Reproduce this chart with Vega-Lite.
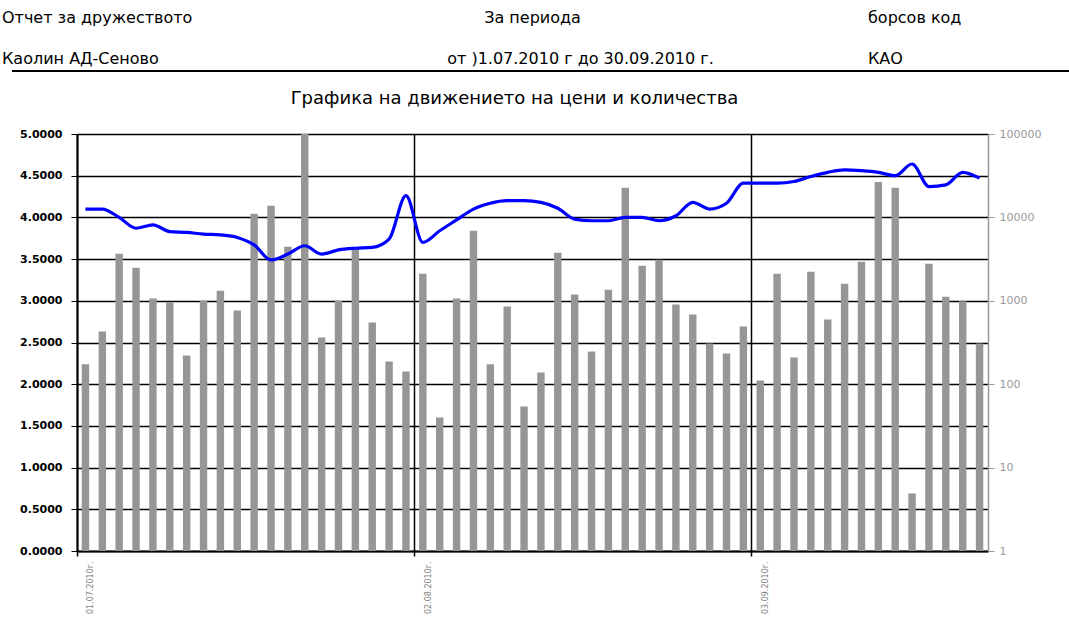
{
  "$schema": "https://vega.github.io/schema/vega-lite/v6.json",
  "autosize": {"type": "none"},
  "padding": {"left": 77, "top": 134, "right": 81, "bottom": 68},
  "width": 911,
  "height": 417,
  "background": "white",
  "config": {"view": {"stroke": null}, "font": "DejaVu Sans"},
  "datasets": {
    "main": [
      {"d": "2010-07-01", "q": 173, "p": 4.10},
      {"d": "2010-07-02", "q": 428, "p": 4.10},
      {"d": "2010-07-05", "q": 3670, "p": 4.00},
      {"d": "2010-07-06", "q": 2495, "p": 3.87},
      {"d": "2010-07-07", "q": 1062, "p": 3.91},
      {"d": "2010-07-08", "q": 951, "p": 3.83},
      {"d": "2010-07-12", "q": 221, "p": 3.82},
      {"d": "2010-07-13", "q": 1000, "p": 3.80},
      {"d": "2010-07-14", "q": 1324, "p": 3.79},
      {"d": "2010-07-15", "q": 764, "p": 3.76},
      {"d": "2010-07-16", "q": 11040, "p": 3.67},
      {"d": "2010-07-19", "q": 13770, "p": 3.49},
      {"d": "2010-07-20", "q": 4450, "p": 3.56},
      {"d": "2010-07-21", "q": 100000, "p": 3.66},
      {"d": "2010-07-22", "q": 363, "p": 3.56},
      {"d": "2010-07-26", "q": 1000, "p": 3.61},
      {"d": "2010-07-27", "q": 4210, "p": 3.63},
      {"d": "2010-07-28", "q": 548, "p": 3.64},
      {"d": "2010-07-29", "q": 187, "p": 3.74},
      {"d": "2010-07-30", "q": 142, "p": 4.26},
      {"d": "2010-08-02", "q": 2115, "p": 3.70},
      {"d": "2010-08-03", "q": 40, "p": 3.84},
      {"d": "2010-08-04", "q": 1062, "p": 3.97},
      {"d": "2010-08-05", "q": 6920, "p": 4.10},
      {"d": "2010-08-09", "q": 173, "p": 4.17},
      {"d": "2010-08-10", "q": 852, "p": 4.20},
      {"d": "2010-08-11", "q": 54, "p": 4.20},
      {"d": "2010-08-12", "q": 138, "p": 4.18},
      {"d": "2010-08-16", "q": 3775, "p": 4.11},
      {"d": "2010-08-17", "q": 1187, "p": 3.98},
      {"d": "2010-08-18", "q": 247, "p": 3.96},
      {"d": "2010-08-19", "q": 1361, "p": 3.96},
      {"d": "2010-08-23", "q": 22600, "p": 4.00},
      {"d": "2010-08-24", "q": 2636, "p": 4.00},
      {"d": "2010-08-25", "q": 3110, "p": 3.96},
      {"d": "2010-08-26", "q": 901, "p": 4.02},
      {"d": "2010-08-27", "q": 684, "p": 4.18},
      {"d": "2010-08-30", "q": 308, "p": 4.10},
      {"d": "2010-08-31", "q": 234, "p": 4.17},
      {"d": "2010-09-02", "q": 491, "p": 4.41},
      {"d": "2010-09-03", "q": 111, "p": 4.41},
      {"d": "2010-09-07", "q": 2115, "p": 4.41},
      {"d": "2010-09-08", "q": 209, "p": 4.43},
      {"d": "2010-09-10", "q": 2236, "p": 4.49},
      {"d": "2010-09-13", "q": 596, "p": 4.54},
      {"d": "2010-09-14", "q": 1606, "p": 4.57},
      {"d": "2010-09-16", "q": 2944, "p": 4.56},
      {"d": "2010-09-17", "q": 26660, "p": 4.54},
      {"d": "2010-09-20", "q": 22600, "p": 4.50},
      {"d": "2010-09-23", "q": 4.9, "p": 4.64},
      {"d": "2010-09-24", "q": 2786, "p": 4.37},
      {"d": "2010-09-27", "q": 1122, "p": 4.39},
      {"d": "2010-09-29", "q": 990, "p": 4.54},
      {"d": "2010-09-30", "q": 308, "p": 4.47}
    ],
    "header": [
      {"col": "A", "row": "1", "t": "Отчет за дружеството"},
      {"col": "A", "row": "2", "t": "Каолин АД-Сеново"},
      {"col": "B", "row": "1", "t": "За периода"},
      {"col": "B", "row": "2", "t": "от )1.07.2010 г до 30.09.2010 г."},
      {"col": "C", "row": "1", "t": "борсов код"},
      {"col": "C", "row": "2", "t": "КАО"},
      {"col": "T", "row": "t", "t": "Графика на движението на цени и количества"}
    ],
    "hline": [{"a": "start", "b": "end", "r": "line"}]
  },
  "layer": [
    {
      "data": {"name": "main"},
      "encoding": {
        "x": {
          "field": "d",
          "type": "ordinal",
          "scale": {"paddingInner": 0, "paddingOuter": 0},
          "axis": {
            "title": null,
            "values": ["2010-07-01", "2010-08-02", "2010-09-03"],
            "bandPosition": 0,
            "labelExpr": "substring(datum.value, 8, 10) + '.' + substring(datum.value, 5, 7) + '.' + substring(datum.value, 0, 4) + 'г.'",
            "labelAngle": -90,
            "labelFontSize": 8,
            "labelColor": "#808080",
            "labelOffset": 6,
            "labelPadding": 5,
            "tickSize": 5,
            "tickColor": "#000000",
            "tickWidth": 1.5,
            "domainColor": "#000000",
            "domainWidth": 2,
            "grid": true,
            "gridColor": "#000000",
            "gridWidth": 1.5
          }
        }
      },
      "layer": [
        {
          "mark": {"type": "bar", "color": "#969696", "width": {"band": 0.44}, "clip": true},
          "encoding": {
            "y": {
              "field": "q",
              "type": "quantitative",
              "stack": null,
              "scale": {"type": "log", "domain": [1, 100000]},
              "axis": {
                "orient": "right",
                "title": null,
                "values": [1, 10, 100, 1000, 10000, 100000],
                "format": "d",
                "grid": false,
                "domainColor": "#999999",
                "domainWidth": 1.5,
                "tickColor": "#999999",
                "tickSize": 6,
                "labelPadding": 5,
                "labelColor": "#999999",
                "labelFontSize": 11
              }
            }
          }
        },
        {
          "mark": {"type": "line", "color": "#0000ff", "strokeWidth": 3.2, "interpolate": "monotone"},
          "encoding": {
            "y": {
              "field": "p",
              "type": "quantitative",
              "scale": {"domain": [0, 5]},
              "axis": {
                "orient": "left",
                "title": null,
                "values": [0, 0.5, 1, 1.5, 2, 2.5, 3, 3.5, 4, 4.5, 5],
                "format": ".4f",
                "grid": true,
                "gridColor": "#000000",
                "gridWidth": 1.5,
                "domainColor": "#000000",
                "domainWidth": 2,
                "tickColor": "#000000",
                "tickSize": 6,
                "labelPadding": 9,
                "labelFontSize": 11,
                "labelFontWeight": "bold",
                "labelColor": "#000000"
              }
            }
          }
        }
      ],
      "resolve": {"scale": {"y": "independent"}}
    },
    {
      "data": {"name": "header"},
      "transform": [{"filter": "datum.col == 'A' || datum.col == 'C'"}],
      "mark": {"type": "text", "align": "left", "baseline": "middle", "fontSize": 16, "color": "#000000"},
      "encoding": {
        "x": {"field": "col", "type": "nominal", "scale": {"type": "point", "padding": 0, "domain": ["A", "C"], "range": [-75, 791]}, "axis": null},
        "y": {"field": "row", "type": "nominal", "scale": {"type": "point", "padding": 0, "domain": ["1", "2", "t"], "range": [-116, -35]}, "axis": null},
        "text": {"field": "t"}
      }
    },
    {
      "data": {"name": "header"},
      "transform": [{"filter": "datum.col == 'B' && datum.row == '1'"}],
      "mark": {"type": "text", "align": "center", "baseline": "middle", "fontSize": 16, "color": "#000000"},
      "encoding": {
        "y": {"field": "row", "type": "nominal", "scale": {"type": "point", "padding": 0, "domain": ["1", "2", "t"], "range": [-116, -35]}, "axis": null},
        "text": {"field": "t"}
      }
    },
    {
      "data": {"name": "header"},
      "transform": [{"filter": "datum.col == 'B' && datum.row == '2'"}],
      "mark": {"type": "text", "align": "center", "baseline": "middle", "fontSize": 16, "color": "#000000", "dx": 48},
      "encoding": {
        "y": {"field": "row", "type": "nominal", "scale": {"type": "point", "padding": 0, "domain": ["1", "2", "t"], "range": [-116, -35]}, "axis": null},
        "text": {"field": "t"}
      }
    },
    {
      "data": {"name": "header"},
      "transform": [{"filter": "datum.col == 'T'"}],
      "mark": {"type": "text", "align": "center", "baseline": "middle", "fontSize": 18, "color": "#000000", "dx": -18},
      "encoding": {
        "y": {"field": "row", "type": "nominal", "scale": {"type": "point", "padding": 0, "domain": ["1", "2", "t"], "range": [-116, -35]}, "axis": null},
        "text": {"field": "t"}
      }
    },
    {
      "data": {"name": "hline"},
      "mark": {"type": "rule", "color": "#000000", "strokeWidth": 2},
      "encoding": {
        "x": {"field": "a", "type": "nominal", "scale": {"type": "point", "padding": 0, "domain": ["start", "end"], "range": [-65, 992]}, "axis": null},
        "x2": {"field": "b"},
        "y": {"field": "r", "type": "nominal", "scale": {"type": "point", "padding": 0, "domain": ["line"], "range": [-63, -63]}, "axis": null}
      }
    }
  ],
  "resolve": {"scale": {"x": "independent", "y": "independent"}}
}
